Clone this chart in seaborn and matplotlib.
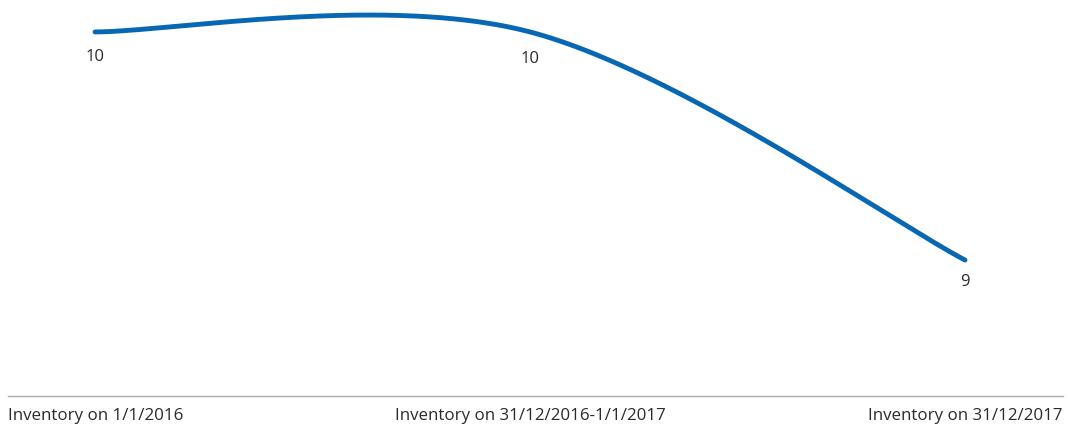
import numpy as np
import pandas as pd
import matplotlib
matplotlib.use("Agg")
import matplotlib.pyplot as plt
import seaborn as sns

categories = ["Inventory on 1/1/2016", "Inventory on 31/12/2016-1/1/2017", "Inventory on 31/12/2017"]
values = [10, 10, 9]

sns.set_theme(style="white")
plt.rcParams['font.family'] = ['Open Sans', 'DejaVu Sans']

LINE_COLOR = "#0767b3"
TEXT_COLOR = "#2a2a2a"

# Cardinal (Catmull-Rom, tension 0) spline through the points, computed in data space
xs = np.arange(len(values), dtype=float)
ys = np.array(values, dtype=float)
n = len(xs)
P = np.column_stack([xs, ys])
k = 1.0 / 6.0
curve_x, curve_y = [], []
t = np.linspace(0, 1, 200)
for i in range(n - 1):
    prev_p = P[i - 1] if i > 0 else P[i]
    next_p = P[i + 2] if i + 2 < n else P[i + 1]
    p0 = P[i]
    p3 = P[i + 1]
    p1 = p0 + k * (p3 - prev_p)
    p2 = p3 - k * (next_p - p0)
    b = ((1 - t) ** 3)[:, None] * p0 + (3 * (1 - t) ** 2 * t)[:, None] * p1 \
        + (3 * (1 - t) * t ** 2)[:, None] * p2 + (t ** 3)[:, None] * p3
    curve_x.extend(b[:, 0])
    curve_y.extend(b[:, 1])
curve = pd.DataFrame({"x": curve_x, "y": curve_y})

fig = plt.figure(figsize=(10.7, 4.25), dpi=100)
ax = fig.add_axes([8 / 1070, 1 - 396 / 425, 1055 / 1070, 396 / 425])

sns.lineplot(data=curve, x="x", y="y", estimator=None, sort=False, ax=ax,
             color=LINE_COLOR, linewidth=3.5, solid_capstyle="round")

ax.set_xlim(-0.2, 2.2253)
ax.set_ylim(8.404, 10.14)

offsets = [-18, -19.5, -16]
for xi, yi, off in zip(xs, ys, offsets):
    ax.annotate(f"{yi:.0f}", (xi, yi), xytext=(0, off), textcoords="offset points",
                ha="center", va="center", fontsize=12, color=TEXT_COLOR)

ax.set_xticks([])
ax.set_yticks([])
ax.set_xlabel("")
ax.set_ylabel("")
for s in ["top", "left", "right"]:
    ax.spines[s].set_visible(False)
ax.spines["bottom"].set_color("#aaaaaa")
ax.spines["bottom"].set_linewidth(1.0)

aligns = ["left", "center", "right"]
pos = [0.0, (xs[1] + 0.2) / 2.4253, 1.0]
for lab, ha, p in zip(categories, aligns, pos):
    ax.text(p, -19.5 / 396, lab, transform=ax.transAxes, ha=ha, va="center",
            fontsize=12.2, color=TEXT_COLOR)

fig.savefig("out.png", dpi=100)
